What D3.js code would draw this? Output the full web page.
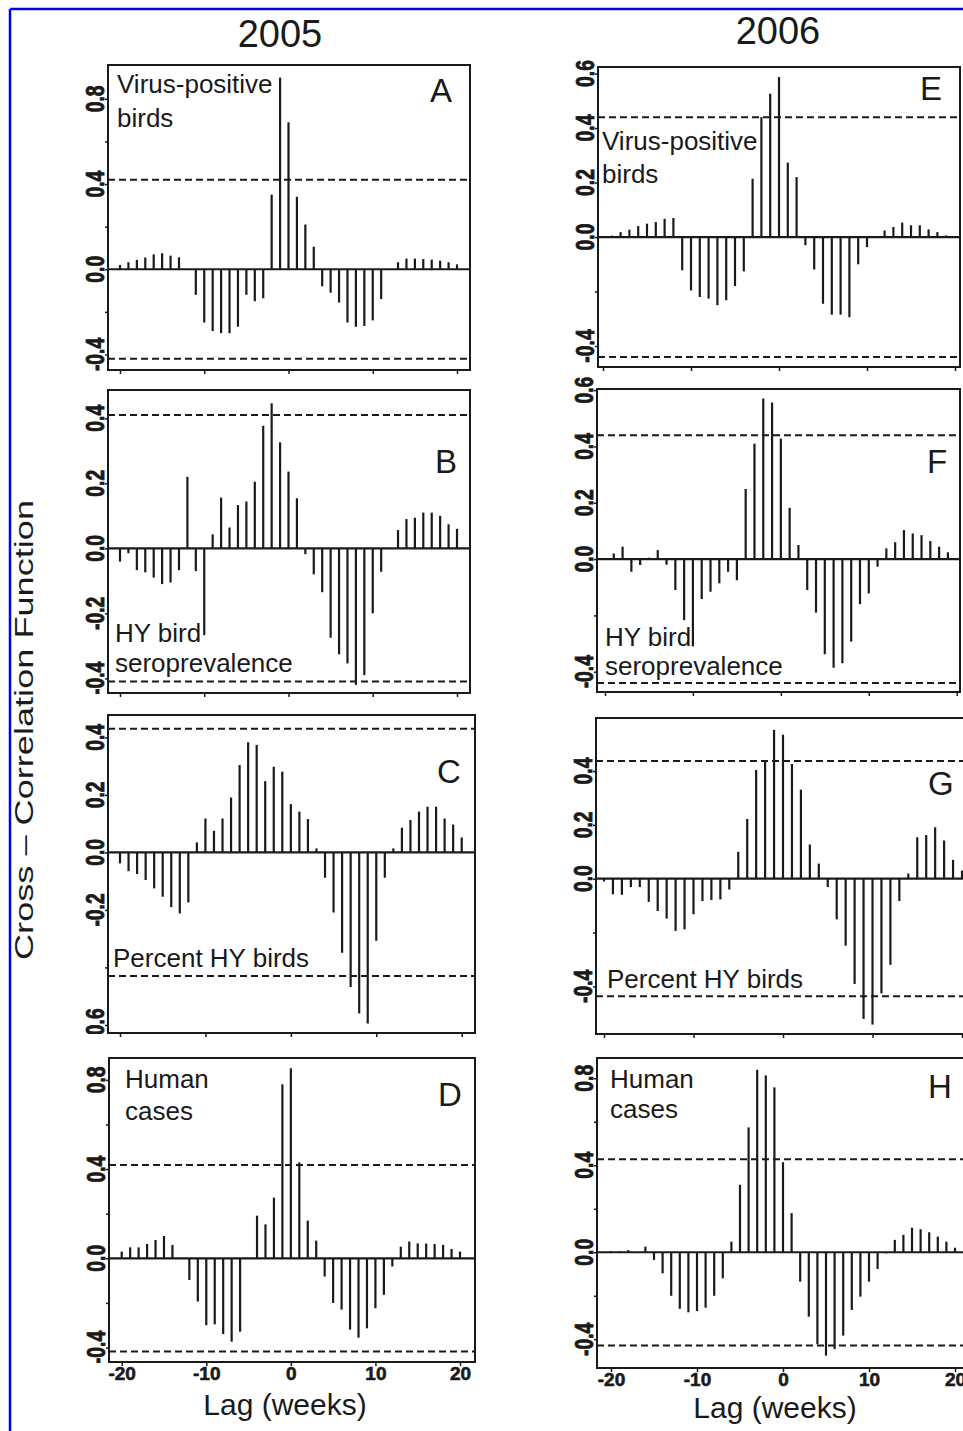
<!DOCTYPE html>
<html>
<head>
<meta charset="utf-8">
<script src="https://cdn.jsdelivr.net/npm/d3@7"></script>
<style>
  body { margin: 0; background: #fff; }
  svg { display: block; }
  text { font-family: "Liberation Sans", Arial, sans-serif; fill: #1a1a1a; }
</style>
</head>
<body>
<svg id="fig"></svg>
<script>
// ラグ (週)
const lags = d3.range(-20, 21);

// 2005
const acfA = [0.02, 0.033, 0.044, 0.055, 0.07, 0.075, 0.064, 0.056, 0, -0.12,
  -0.25, -0.29, -0.30, -0.30, -0.27, -0.12, -0.15, -0.136, 0.35, 0.90,
  0.69, 0.34, 0.21, 0.106, -0.08, -0.11, -0.156, -0.25, -0.27, -0.266,
  -0.24, -0.14, 0, 0.033, 0.05, 0.05, 0.048, 0.045, 0.04, 0.033, 0.023];
const acfB = [-0.041, -0.015, -0.067, -0.074, -0.09, -0.11, -0.105, -0.067, 0.22, -0.07,
  -0.267, 0.043, 0.156, 0.064, 0.133, 0.144, 0.205, 0.377, 0.446, 0.326,
  0.236, 0.154, -0.018, -0.08, -0.135, -0.275, -0.326, -0.354, -0.42, -0.39,
  -0.2, -0.072, 0, 0.056, 0.09, 0.094, 0.11, 0.11, 0.1, 0.074, 0.06];
const acfC = [-0.038, -0.065, -0.075, -0.096, -0.125, -0.154, -0.19, -0.212, -0.174, 0.035,
  0.118, 0.075, 0.118, 0.191, 0.304, 0.383, 0.374, 0.248, 0.298, 0.281,
  0.168, 0.142, 0.116, 0.014, -0.088, -0.209, -0.349, -0.468, -0.56, -0.595,
  -0.307, -0.088, 0.014, 0.086, 0.113, 0.142, 0.159, 0.159, 0.118, 0.097, 0.052];
const acfD = [0.03, 0.049, 0.049, 0.064, 0.082, 0.1, 0.06, 0, -0.097, -0.194,
  -0.3, -0.296, -0.34, -0.374, -0.329, 0, 0.191, 0.152, 0.272, 0.78,
  0.852, 0.43, 0.169, 0.079, -0.082, -0.2, -0.23, -0.32, -0.356, -0.314,
  -0.224, -0.164, -0.037, 0.052, 0.075, 0.067, 0.066, 0.064, 0.06, 0.042, 0.03];

// 2006
const acfE = [0, 0.005, 0.018, 0.027, 0.04, 0.049, 0.055, 0.067, 0.07, -0.122,
  -0.196, -0.22, -0.226, -0.25, -0.232, -0.18, -0.126, 0.214, 0.44, 0.526,
  0.587, 0.273, 0.22, -0.03, -0.119, -0.245, -0.285, -0.285, -0.294, -0.1,
  -0.037, 0, 0.024, 0.037, 0.053, 0.043, 0.043, 0.028, 0.018, 0.006, 0];
const acfF = [0, 0.02, 0.044, -0.045, -0.021, 0.005, 0.032, -0.02, -0.11, -0.217,
  -0.31, -0.142, -0.116, -0.086, -0.045, -0.075, 0.249, 0.41, 0.57, 0.556,
  0.428, 0.182, 0.05, -0.11, -0.19, -0.338, -0.386, -0.37, -0.293, -0.16,
  -0.122, -0.027, 0.038, 0.06, 0.103, 0.091, 0.085, 0.064, 0.044, 0.024, 0];
const acfG = [-0.01, -0.058, -0.06, -0.031, -0.031, -0.086, -0.12, -0.148, -0.194, -0.188,
  -0.132, -0.083, -0.079, -0.077, -0.04, 0.1, 0.222, 0.404, 0.436, 0.553,
  0.535, 0.426, 0.331, 0.127, 0.056, -0.031, -0.151, -0.249, -0.391, -0.521,
  -0.542, -0.426, -0.32, -0.083, 0.019, 0.154, 0.162, 0.191, 0.142, 0.07, 0.03];
const acfH = [0.005, 0.005, 0.01, 0, 0.026, -0.035, -0.097, -0.2, -0.26, -0.276,
  -0.27, -0.255, -0.2, -0.12, 0.049, 0.31, 0.574, 0.839, 0.813, 0.758,
  0.414, 0.18, -0.135, -0.296, -0.423, -0.475, -0.445, -0.383, -0.265, -0.204,
  -0.135, -0.077, -0.005, 0.057, 0.08, 0.113, 0.106, 0.092, 0.072, 0.049, 0.021];

// 信頼限界
const confLimits = [0.42, 0.41, 0.43, 0.418, 0.44, 0.44, 0.437, 0.428];

const xTickValues = [-20, -10, 0, 10, 20];
const years = ["2005", "2006"];
const yTitle = "Cross \u2013 Correlation Function";
const xTitle = "Lag (weeks)";

const width = 963, height = 1431;
const ink = "#1a1a1a";

const svg = d3.select("#fig")
    .attr("width", width)
    .attr("height", height);

svg.append("rect").attr("width", width).attr("height", height).attr("fill", "#fff");

// 青い枠
svg.append("line").attr("x1", 10).attr("x2", width).attr("y1", 9).attr("y2", 9)
    .attr("stroke", "#0000ee").attr("stroke-width", 2.5);
svg.append("line").attr("x1", 10).attr("x2", 10).attr("y1", 9).attr("y2", height)
    .attr("stroke", "#0000ee").attr("stroke-width", 2.5);

// パネル配置
const panels = [
  {key: "A", values: acfA, conf: confLimits[0], box: [108, 65, 470, 370], xr: [120, 457], dom: [-0.473, 0.959],
   yTicks: [-0.4, -0.2, 0, 0.2, 0.4, 0.6, 0.8], yLabels: [-0.4, 0, 0.4, 0.8],
   text: ["Virus-positive", "birds"], tx: 117, ty: [93, 127], letter: [430, 102], xLabels: false},
  {key: "B", values: acfB, conf: confLimits[1], box: [108, 390, 470, 693], xr: [120, 457], dom: [-0.445, 0.487],
   yTicks: [-0.4, -0.2, 0, 0.2, 0.4], yLabels: [-0.4, -0.2, 0, 0.2, 0.4],
   text: ["HY bird", "seroprevalence"], tx: 115, ty: [642, 672], letter: [435, 473], xLabels: false},
  {key: "C", values: acfC, conf: confLimits[2], box: [108, 715, 475, 1033], xr: [120, 461.7], dom: [-0.628, 0.478],
   yTicks: [-0.6, -0.4, -0.2, 0, 0.2, 0.4], yLabels: [-0.6, -0.2, 0, 0.2, 0.4],
   text: ["Percent HY birds"], tx: 113, ty: [967], letter: [437, 783], xLabels: false},
  {key: "D", values: acfD, conf: confLimits[3], box: [109, 1058, 475, 1362], xr: [121.7, 460], dom: [-0.465, 0.898],
   yTicks: [-0.4, -0.2, 0, 0.2, 0.4, 0.6, 0.8], yLabels: [-0.4, 0, 0.4, 0.8],
   text: ["Human", "cases"], tx: 125, ty: [1088, 1120], letter: [438, 1106], xLabels: true},
  {key: "E", values: acfE, conf: confLimits[4], box: [598, 67, 960, 367], xr: [603, 955], dom: [-0.477, 0.624],
   yTicks: [-0.4, -0.2, 0, 0.2, 0.4, 0.6], yLabels: [-0.4, 0, 0.2, 0.4, 0.6],
   text: ["Virus-positive", "birds"], tx: 602, ty: [150, 183], letter: [920, 100], xLabels: false},
  {key: "F", values: acfF, conf: confLimits[5], box: [597, 389, 960, 692], xr: [605, 956.7], dom: [-0.472, 0.604],
   yTicks: [-0.4, -0.2, 0, 0.2, 0.4, 0.6], yLabels: [-0.4, 0, 0.2, 0.4, 0.6],
   text: ["HY bird", "seroprevalence"], tx: 605, ty: [646, 675], letter: [927, 473], xLabels: false},
  {key: "G", values: acfG, conf: confLimits[6], box: [596, 718, 968, 1034], xr: [604, 962], dom: [-0.577, 0.597],
   yTicks: [-0.4, -0.2, 0, 0.2, 0.4], yLabels: [-0.4, 0, 0.2, 0.4],
   text: ["Percent HY birds"], tx: 607, ty: [988], letter: [928, 795], xLabels: false},
  {key: "H", values: acfH, conf: confLimits[7], box: [597, 1058, 968, 1368], xr: [611, 955], dom: [-0.532, 0.893],
   yTicks: [-0.4, -0.2, 0, 0.2, 0.4, 0.6, 0.8], yLabels: [-0.4, 0, 0.4, 0.8],
   text: ["Human", "cases"], tx: 610, ty: [1088, 1118], letter: [928, 1098], xLabels: true}
];

panels.forEach(function(p) {
    const [x0, y0, x1, y1] = p.box;
    const x = d3.scaleLinear().domain([-20, 20]).range(p.xr);
    const y = d3.scaleLinear().domain(p.dom).range([y1, y0]);
    const g = svg.append("g").attr("class", "panel-" + p.key);

    // 信頼限界 (破線)
    g.selectAll("line.conf")
        .data([p.conf, -p.conf])
        .enter().append("line")
        .attr("x1", x0).attr("x2", x1)
        .attr("y1", d => y(d)).attr("y2", d => y(d))
        .attr("stroke", ink).attr("stroke-width", 2)
        .attr("stroke-dasharray", "7,4");

    // ゼロ線
    g.append("line")
        .attr("x1", x0).attr("x2", x1)
        .attr("y1", y(0)).attr("y2", y(0))
        .attr("stroke", ink).attr("stroke-width", 2.2);

    // 棒
    g.selectAll("line.bar")
        .data(lags)
        .enter().append("line")
        .attr("class", "bar")
        .attr("x1", d => x(d)).attr("x2", d => x(d))
        .attr("y1", y(0))
        .attr("y2", (d, i) => y(p.values[i]))
        .attr("stroke", ink).attr("stroke-width", 2.2);

    // 枠
    g.append("rect")
        .attr("x", x0).attr("y", y0)
        .attr("width", x1 - x0).attr("height", y1 - y0)
        .attr("fill", "none").attr("stroke", ink).attr("stroke-width", 2);

    // y軸
    const yAxis = g.append("g")
        .attr("transform", `translate(${x0},0)`)
        .call(d3.axisLeft(y).tickValues(p.yTicks).tickSize(3).tickFormat(""));
    yAxis.select(".domain").remove();
    yAxis.selectAll("line").attr("stroke", ink).attr("stroke-width", 1.5);

    const clipId = "clip-" + p.key;
    svg.append("clipPath").attr("id", clipId)
        .append("rect").attr("x", x0 - 40).attr("y", y0 - 30)
        .attr("width", 40).attr("height", y1 - y0 + 31);

    // 縦向きの目盛ラベル (原図と同じく少し太く)
    g.append("g").attr("clip-path", `url(#${clipId})`)
        .selectAll("text")
        .data(p.yLabels)
        .enter().append("text")
        .attr("transform", d => `translate(${x0 - 4},${y(d)}) rotate(-90) scale(0.92,1.2)`)
        .attr("text-anchor", "middle")
        .attr("font-size", 21)
        .attr("font-weight", 700)
        .attr("stroke", ink).attr("stroke-width", 0.7)
        .text(d => d.toFixed(1));

    // x軸
    const xAxis = g.append("g")
        .attr("transform", `translate(0,${y1})`)
        .call(d3.axisBottom(x).tickValues(xTickValues).tickSize(4)
            .tickFormat(p.xLabels ? (d => String(d)) : ""));
    xAxis.select(".domain").remove();
    xAxis.selectAll("line").attr("stroke", ink).attr("stroke-width", 1.5);
    xAxis.selectAll("text")
        .attr("fill", ink)
        .attr("y", 5)
        .attr("stroke", ink).attr("stroke-width", 0.6)
        .style("font-family", '"Liberation Sans", Arial, sans-serif')
        .style("font-size", "19px")
        .style("font-weight", "bold");

    // 系列名
    g.selectAll("text.series")
        .data(p.text)
        .enter().append("text")
        .attr("class", "series")
        .attr("x", p.tx)
        .attr("y", (d, i) => p.ty[i])
        .style("font-size", "26px")
        .text(d => d);

    // パネル記号
    g.append("text")
        .attr("x", p.letter[0]).attr("y", p.letter[1])
        .style("font-size", "33px")
        .text(p.key);
});

// 年
svg.selectAll("text.year")
    .data(years)
    .enter().append("text")
    .attr("class", "year")
    .attr("x", (d, i) => i === 0 ? 280 : 778)
    .attr("y", (d, i) => i === 0 ? 47 : 44)
    .attr("text-anchor", "middle")
    .style("font-size", "38px")
    .text(d => d);

// 軸タイトル
svg.append("text")
    .attr("transform", "translate(33,730) rotate(-90)")
    .attr("text-anchor", "middle")
    .attr("textLength", 460)
    .attr("lengthAdjust", "spacingAndGlyphs")
    .style("font-size", "26px")
    .text(yTitle);

svg.selectAll("text.xtitle")
    .data([[285, 1415], [775, 1418]])
    .enter().append("text")
    .attr("class", "xtitle")
    .attr("x", d => d[0])
    .attr("y", d => d[1])
    .attr("text-anchor", "middle")
    .style("font-size", "30px")
    .text(xTitle);
</script>
</body>
</html>
